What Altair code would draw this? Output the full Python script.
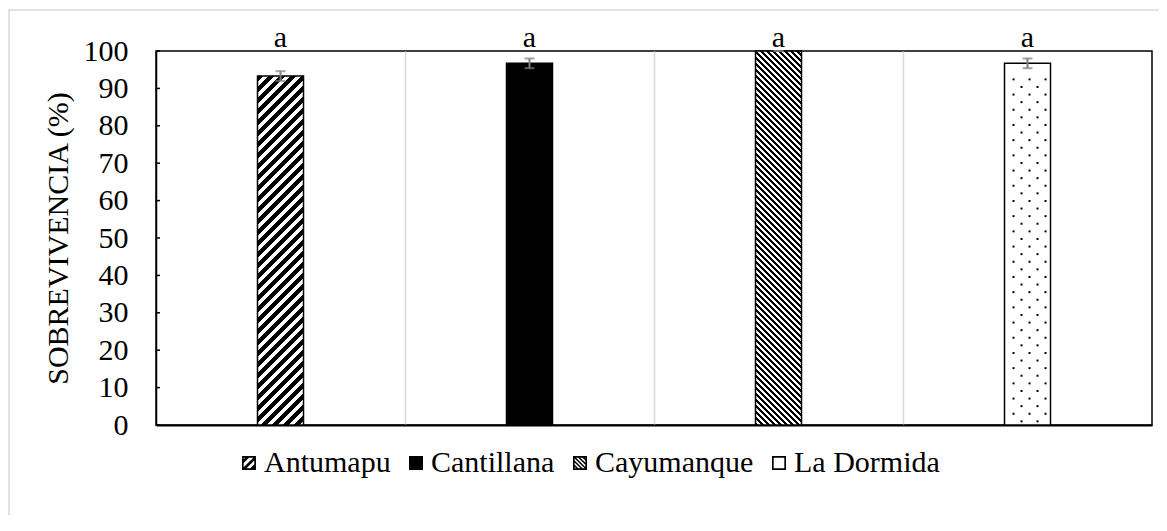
import altair as alt
import pandas as pd
import numpy as np

# ---------------- data ----------------
categories = ["Antumapu", "Cantillana", "Cayumanque", "La Dormida"]
survival = [93.3, 96.7, 100.0, 96.7]
std_err = [1.3, 1.3, 0.0, 1.3]
letters = ["a", "a", "a", "a"]
y_ticks = [0, 10, 20, 30, 40, 50, 60, 70, 80, 90, 100]

# ---------------- layout ----------------
W, H = 996, 374
BAR_PX = 46
BAND_PX = W / len(categories)
HW = BAR_PX / 2 / BAND_PX          # half bar width in x data units
PX_Y = H / 100.0                   # pixels per percentage point
FONT = "Liberation Serif"
FS = 30
GRAY_ERR = "#7f7f7f"

df = pd.DataFrame({"cat": categories, "val": survival, "err": std_err, "lab": letters})
df["idx"] = np.arange(len(categories))
df["center"] = df["idx"] + 0.5
df["left"] = df["center"] - HW
df["right"] = df["center"] + HW
df["lo"] = df["val"] - df["err"]
df["hi"] = df["val"] + df["err"]
df["mid"] = df["val"] / 2

xscale = alt.Scale(domain=[0, len(categories)], nice=False, zero=False)
xaxis = alt.Axis(values=[1, 2, 3], labels=False, ticks=False, title=None, grid=True,
                 gridColor="#d9d9d9", gridWidth=1.5, domain=True, domainColor="black",
                 domainWidth=2)
yscale = alt.Scale(domain=[0, 100], nice=False)
yaxis = alt.Axis(values=y_ticks, title="SOBREVIVENCIA (%)", titleFont=FONT, titleFontSize=FS,
                 titleFontWeight="normal", titleColor="black", titlePadding=10,
                 labelFont=FONT, labelFontSize=FS, labelColor="black", labelPadding=28,
                 labelOverlap=False, ticks=False, tickSize=0, grid=False, domain=True,
                 domainColor="black", domainWidth=1.5)


def X(field):
    return alt.X(field, type="quantitative", scale=xscale, axis=xaxis)


def Y(field):
    return alt.Y(field, type="quantitative", scale=yscale, axis=yaxis)


# ---------------- patterns ----------------
def stripe_gradient(value, period, black, direction):
    w = BAR_PX
    h = value * PX_Y
    L = w + h
    r = h / w
    s = (1 + r) / (1 + r * r)
    if direction == "up":      # "/" stripes
        x1, y1, x2, y2 = 0, 0, s, s * r
    else:                      # "\" stripes
        x1, y1, x2, y2 = 0, 1, s, 1 - s * r
    stops = []
    pos = 0.0
    while pos < L:
        a = pos / L
        b = min((pos + black) / L, 1.0)
        c = min((pos + period) / L, 1.0)
        stops += [{"offset": a, "color": "black"}, {"offset": b, "color": "black"},
                  {"offset": b, "color": "white"}, {"offset": c, "color": "white"}]
        pos += period
    return {"gradient": "linear", "x1": x1, "y1": y1, "x2": x2, "y2": y2, "stops": stops}


def clip_square(poly, lo, hi):
    def clip(poly, inside, inter):
        out = []
        for i in range(len(poly)):
            cur, prev = poly[i], poly[i - 1]
            if inside(cur):
                if not inside(prev):
                    out.append(inter(prev, cur))
                out.append(cur)
            elif inside(prev):
                out.append(inter(prev, cur))
        return out
    for ax, bound, ge in [(0, lo, True), (0, hi, False), (1, lo, True), (1, hi, False)]:
        ins = (lambda p, a=ax, b=bound, g=ge: p[a] >= b if g else p[a] <= b)

        def inter(p, q, a=ax, b=bound):
            t = (b - p[a]) / (q[a] - p[a])
            return (p[0] + t * (q[0] - p[0]), p[1] + t * (q[1] - p[1]))
        poly = clip(poly, ins, inter)
        if not poly:
            break
    return poly


def band_path(c1, c2, direction, inner=0.76):
    if direction == "up":
        quad = [(-5, c1 + 5), (5, c1 - 5), (5, c2 - 5), (-5, c2 + 5)]
    else:
        quad = [(-5, -5 - c1), (5, 5 - c1), (5, 5 - c2), (-5, -5 - c2)]
    pts = clip_square(quad, -inner, inner)
    if len(pts) < 3:
        return ""
    return "M" + "L".join(f"{x:.3f},{y:.3f}" for x, y in pts) + "Z"


RING = "M-1,-1L1,-1L1,1L-1,1Z M-0.76,-0.76L-0.76,0.76L0.76,0.76L0.76,-0.76Z"
SOLID = "M-1,-1L1,-1L1,1L-1,1Z"
sym_antumapu = RING + " " + " ".join(band_path(a, b, "up") for a, b in
                                     [(-1.3, -0.75), (-0.15, 0.4), (0.95, 1.5)])
sym_cayumanque = RING + " " + " ".join(band_path(a, b, "down") for a, b in
                                       [(-1.3, -1.0), (-0.7, -0.4), (-0.1, 0.2), (0.5, 0.8), (1.1, 1.4)])
legend_shapes = [sym_antumapu, SOLID, sym_cayumanque, RING]

# ---------------- layers ----------------
frame_df = pd.DataFrame({"k": [0]})
frame_top = alt.Chart(frame_df).mark_rule(color="#d9d9d9", strokeWidth=1.5).encode(
    x=alt.value(-148), x2=alt.value(W + 7), y=alt.value(-41))
frame_left = alt.Chart(frame_df).mark_rule(color="#d9d9d9", strokeWidth=1.5).encode(
    x=alt.value(-147), y=alt.value(-41), y2=alt.value(H + 90))

legend_layer = alt.Chart(df).mark_point(filled=True, size=196, color="black", opacity=1).encode(
    x=X("center"), y=Y("mid"),
    shape=alt.Shape("cat:N", scale=alt.Scale(domain=categories, range=legend_shapes),
                    legend=alt.Legend(orient="none", legendX=78, legendY=397,
                                      direction="horizontal", title=None,
                                      labelFont=FONT, labelFontSize=FS, labelColor="black",
                                      symbolSize=196, symbolStrokeWidth=0,
                                      symbolOpacity=1, columnPadding=10, labelOffset=0)))

fills = {
    "Antumapu": stripe_gradient(survival[0], 11, 5.5, "up"),
    "Cantillana": "black",
    "Cayumanque": stripe_gradient(survival[2], 6, 3, "down"),
    "La Dormida": "white",
}
bar_layers = []
for cat in categories:
    bar_layers.append(
        alt.Chart(df).transform_filter(alt.datum.cat == cat)
        .mark_rect(fill=fills[cat], stroke="black", strokeWidth=1.5)
        .encode(x=X("left"), x2="right", y=Y("val"), y2=alt.Y2Datum(0))
    )

# dotted pattern for La Dormida
i_ld = categories.index("La Dormida")
ld_center = i_ld + 0.5
ld_top_px = survival[i_ld] * PX_Y
dots_x, dots_y = [], []
row = 0
depth = 16.0
while depth < ld_top_px - 3:
    offs = [-14, 2, 18] if row % 2 == 0 else [-6, 10]
    for o in offs:
        dots_x.append(ld_center + o / BAND_PX)
        dots_y.append(survival[i_ld] - depth / PX_Y)
    depth += 7.6
    row += 1
dots_df = pd.DataFrame({"dx": dots_x, "dy": dots_y})
dots = alt.Chart(dots_df).mark_square(size=4, color="black", opacity=1).encode(
    x=X("dx"), y=Y("dy"))

err_rule = alt.Chart(df).mark_rule(color=GRAY_ERR, strokeWidth=2).encode(
    x=X("center"), y=Y("lo"), y2="hi")
cap_hi = alt.Chart(df).mark_tick(orient="horizontal", size=10, thickness=2, color=GRAY_ERR).encode(
    x=X("center"), y=Y("hi"))
cap_lo = alt.Chart(df).mark_tick(orient="horizontal", size=10, thickness=2, color=GRAY_ERR).encode(
    x=X("center"), y=Y("lo"))

letters_layer = alt.Chart(df).mark_text(font=FONT, fontSize=FS, color="black",
                                        baseline="alphabetic", dy=-4).encode(
    x=X("center"), y=alt.YDatum(100, type="quantitative", scale=yscale, axis=yaxis),
    text="lab:N")

ticks_df = pd.DataFrame({"t": y_ticks})
y_tick_marks = alt.Chart(ticks_df).mark_rule(color="black", strokeWidth=1.5).encode(
    y=Y("t"), x=alt.value(0), x2=alt.value(4))

chart = alt.layer(
    frame_top, frame_left, legend_layer, *bar_layers, dots, err_rule, cap_hi, cap_lo,
    letters_layer, y_tick_marks
).properties(
    width=W, height=H,
    autosize=alt.AutoSizeParams(type="none"),
    padding={"left": 148, "top": 43, "right": 7, "bottom": 90},
    background="white",
).configure_view(stroke="black", strokeWidth=1.5)

chart.save("out.html", embed_options={"renderer": "svg", "actions": False})
